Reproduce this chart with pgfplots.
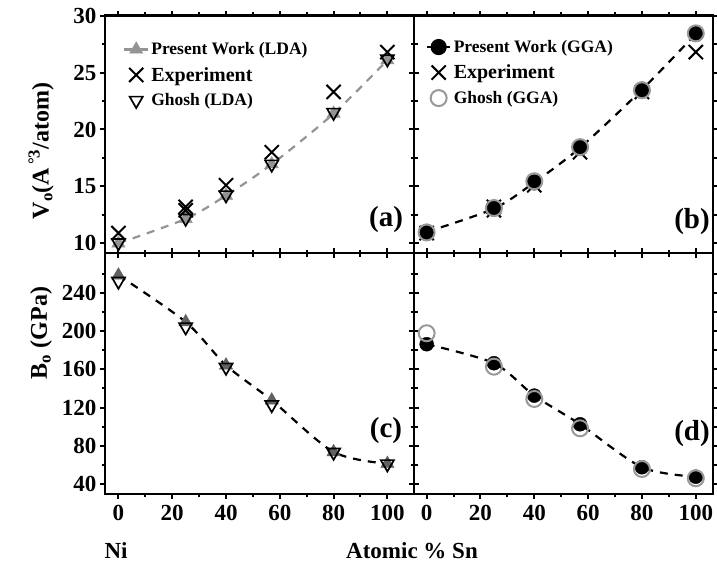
\documentclass[border=0pt]{standalone}
\usepackage{fontspec}
\setmainfont{Liberation Serif}
\usepackage{pgfplots}
\usepackage{pgfplotstable}
\pgfplotsset{compat=1.18}

\definecolor{ltgray}{gray}{0.58}
\definecolor{dkgray}{gray}{0.38}
\definecolor{ringgray}{gray}{0.60}

% ---------- data ----------
\pgfplotstableread{
x y
0 10.0
25 12.15
40 14.2
57 16.95
80 21.4
100 26.1
}\ldaV
\pgfplotstableread{
x y
0 10.05
25 12.2
40 14.25
57 16.95
80 21.5
100 26.2
}\ghoshLdaV
\pgfplotstableread{
x y
0 10.9
25 13.2
25 12.9
40 15.1
57 18.0
80 23.3
100 26.8
}\expV
\pgfplotstableread{
x y
0 11.0
25 13.05
40 15.35
57 18.4
80 23.5
100 28.4
}\ggaV
\pgfplotstableread{
x y
0 10.95
25 13.1
40 15.45
57 18.45
80 23.45
100 28.45
}\ghoshGgaV
\pgfplotstableread{
x y
0 258.5
25 209.6
40 164.3
57 127.6
80 73.5
100 61.3
}\ldaB
\pgfplotstableread{
x y
0 252.3
25 204.4
40 162.2
57 123.0
80 73.2
100 61.0
}\ghoshLdaB
\pgfplotstableread{
x y
0 186.3
25 166.4
40 132.5
57 102.5
80 57.5
100 47.6
}\ggaB
\pgfplotstableread{
x y
0 197.8
25 162.8
40 129.0
57 98.3
80 55.7
100 46.0
}\ghoshGgaB

\pgfplotsset{
  panel/.style={
    scale only axis, anchor=south west, clip=false,
    axis line style={line width=2.4pt},
    tick style={line width=2pt, black},
    major tick length=5pt, minor tick length=3.5pt,
    tick align=outside,
    xtick pos=both, ytick pos=both,
    xtick={0,20,...,100}, minor xtick={10,30,50,70,90},
    tick label style={font=\bfseries\fontsize{23}{23}\selectfont},
    xticklabel style={yshift=-3pt},
    /pgf/number format/assume math mode=true,
    legend image code/.code={\draw[mark repeat=2,mark phase=2,##1] plot coordinates {(0pt,0pt) (12pt,0pt) (24pt,0pt)};},
    legend style={draw=none, fill=none, anchor=north west, inner sep=0pt,
      row sep=7pt, font=\bfseries\fontsize{17.5}{18}\selectfont,
      legend cell align=left},
  },
  topV/.style={ymin=9.12, ymax=30, ytick={10,15,...,30}, minor ytick={12.5,17.5,22.5,27.5}, xticklabels={}},
  botB/.style={ymin=29.5, ymax=281.5, ytick={40,80,...,240}, minor ytick={60,100,...,260}},
  leftP/.style={xmin=-5, xmax=109.9, width=309pt},
  rightP/.style={xmin=-4.7, xmax=106.4, width=299pt, yticklabels={}},
}

\begin{document}
\begin{tikzpicture}[x=1pt,y=1pt]
\path[use as bounding box] (0,0) rectangle (717,564);

% (a)
\begin{axis}[panel, leftP, topV, at={(105pt,310.7pt)}, height=237.6pt,
  legend style={at={(axis description cs:0.058,0.896)}}]
\addplot[ltgray, line width=2.2pt, dash pattern=on 8pt off 7pt, smooth,
  mark=triangle*, mark size=7.6pt, mark options={solid, fill=ltgray, draw=ltgray, line width=0.5pt}]
  table {\ldaV};
\addlegendentry{Present Work (LDA)}
\addplot[only marks, black, mark=x, mark size=10pt, mark options={line width=2pt}] table {\expV};
\addlegendentry{\fontsize{20}{20}\selectfont Experiment}
\addplot[only marks, black, mark=triangle, mark size=7.6pt, mark options={rotate=180, line width=1.7pt}] table {\ghoshLdaV};
\addlegendentry{Ghosh (LDA)}
\end{axis}

% (b)
\begin{axis}[panel, rightP, topV, at={(414pt,310.7pt)}, height=237.6pt,
  legend style={at={(axis description cs:0.038,0.906)}}]
\addplot[black, line width=2.2pt, dash pattern=on 8pt off 7pt, smooth,
  mark=*, mark size=7pt, mark options={solid, fill=black}]
  table {\ggaV};
\addlegendentry{Present Work (GGA)}
\addplot[only marks, black, mark=x, mark size=10pt, mark options={line width=2pt}] table {\expV};
\addlegendentry{\fontsize{20}{20}\selectfont Experiment}
\addplot[only marks, ringgray, mark=o, mark size=8pt, mark options={line width=2pt}] table {\ghoshGgaV};
\addlegendentry{Ghosh (GGA)}
\end{axis}

% (c)
\begin{axis}[panel, leftP, botB, at={(105pt,70pt)}, height=240.7pt]
\addplot[black, line width=2.2pt, dash pattern=on 8pt off 7pt, smooth] table {\ldaB};
\addplot[only marks, mark=triangle*, mark size=7.6pt, mark options={fill=dkgray, draw=dkgray, line width=0.5pt}] table {\ldaB};
\addplot[only marks, black, mark=triangle, mark size=7.6pt, mark options={rotate=180, line width=1.7pt}] table {\ghoshLdaB};
\end{axis}

% (d)
\begin{axis}[panel, rightP, botB, at={(414pt,70pt)}, height=240.7pt]
\addplot[black, line width=2.2pt, dash pattern=on 8pt off 7pt, smooth] table {\ggaB};
\addplot[only marks, black, mark=*, mark size=7pt, mark options={fill=black}] table {\ggaB};
\addplot[only marks, ringgray, mark=o, mark size=8pt, mark options={line width=2pt}] table {\ghoshGgaB};
\end{axis}

% labels
\node[rotate=90, font=\bfseries\fontsize{24}{24}\selectfont] at (41,413) {V\textsubscript{o}(A\textsuperscript{\,°3}/atom)};
\node[rotate=90, font=\bfseries\fontsize{24}{24}\selectfont] at (41,231) {B\textsubscript{o} (GPa)};
\node[font=\bfseries\fontsize{23}{23}\selectfont, inner sep=0pt, anchor=base] at (116,5) {Ni};
\node[font=\bfseries\fontsize{23}{23}\selectfont, inner sep=0pt, anchor=base] at (412,5) {Atomic \% Sn};
\node[font=\bfseries\fontsize{29}{29}\selectfont] at (386,344) {(a)};
\node[font=\bfseries\fontsize{29}{29}\selectfont] at (692,342) {(b)};
\node[font=\bfseries\fontsize{29}{29}\selectfont] at (386,133) {(c)};
\node[font=\bfseries\fontsize{29}{29}\selectfont] at (692,130) {(d)};
\end{tikzpicture}
\end{document}
